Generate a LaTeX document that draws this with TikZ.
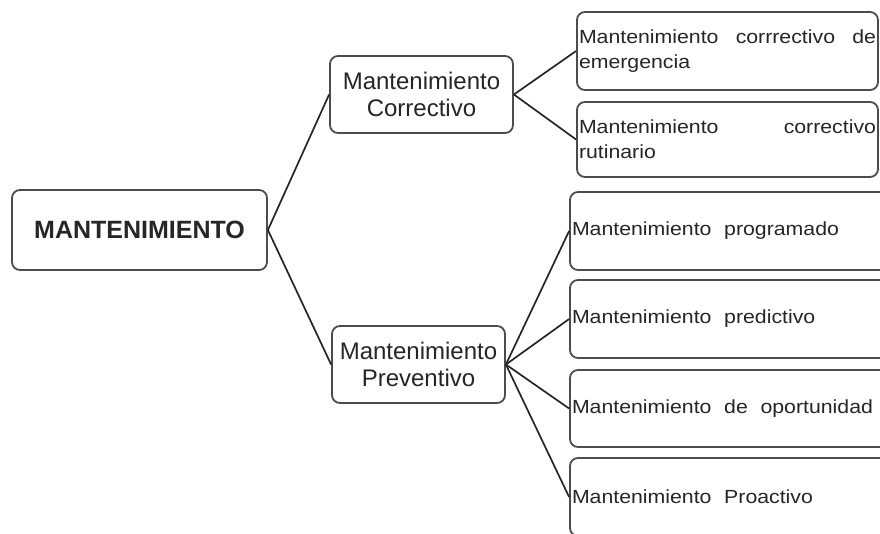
\documentclass[tikz,border=0pt]{standalone}
\usepackage{fontspec}
\setmainfont{Liberation Sans}
\newfontfamily\childfont[FakeStretch=1.12]{Liberation Sans}
\hyphenpenalty=10000
\tolerance=10000

\begin{document}
\begin{tikzpicture}[x=1pt,y=-1pt,
  box/.style={draw=black!70, line width=1.8pt, rounded corners=8pt, fill=white, text=black!85, inner sep=2pt},
  midbox/.style={box, align=center, font=\fontsize{24}{27}\selectfont},
  leafbox/.style={box, font=\childfont\fontsize{19}{25}\selectfont},
  link/.style={line width=1.7pt, black!85}]
\useasboundingbox (0,0) rectangle (880,533);

% Root
\node[box, minimum width=255pt, minimum height=80pt, font=\bfseries\fontsize{25}{30}\selectfont] (mant) at (139.5,230) {MANTENIMIENTO};

% Second level
\node[midbox, minimum width=183pt, minimum height=77pt] (corr) at (421.5,94.5) {Mantenimiento\\Correctivo};
\node[midbox, minimum width=173pt, minimum height=77pt] (prev) at (418.5,364.5) {Mantenimiento\\Preventivo};

% Corrective leaves
\node[leafbox, text width=297pt, align=justify, minimum height=78pt] (emerg) at (727.5,51) {Mantenimiento corrrectivo de emergencia};
\node[leafbox, text width=297pt, align=justify, minimum height=75pt] (rutin) at (727.5,139.5) {Mantenimiento correctivo rutinario};

% Preventive leaves
\node[leafbox, text width=326pt, align=left, minimum height=78pt] (prog) at (735,231) {Mantenimiento\ \ programado};
\node[leafbox, text width=326pt, align=left, minimum height=78pt] (pred) at (735,319) {Mantenimiento\ \ predictivo};
\node[leafbox, text width=326pt, align=left, minimum height=77pt] (oport) at (735,408.5) {Mantenimiento\ \ de\ \ oportunidad};
\node[leafbox, text width=326pt, align=left, minimum height=78pt] (proac) at (735,497) {Mantenimiento\ \ Proactivo};

% Links
\draw[link] (mant.east) -- (corr.west);
\draw[link] (mant.east) -- (prev.west);
\draw[link] (corr.east) -- (emerg.west);
\draw[link] (corr.east) -- (rutin.west);
\draw[link] (prev.east) -- (prog.west);
\draw[link] (prev.east) -- (pred.west);
\draw[link] (prev.east) -- (oport.west);
\draw[link] (prev.east) -- (proac.west);

\end{tikzpicture}
\end{document}
